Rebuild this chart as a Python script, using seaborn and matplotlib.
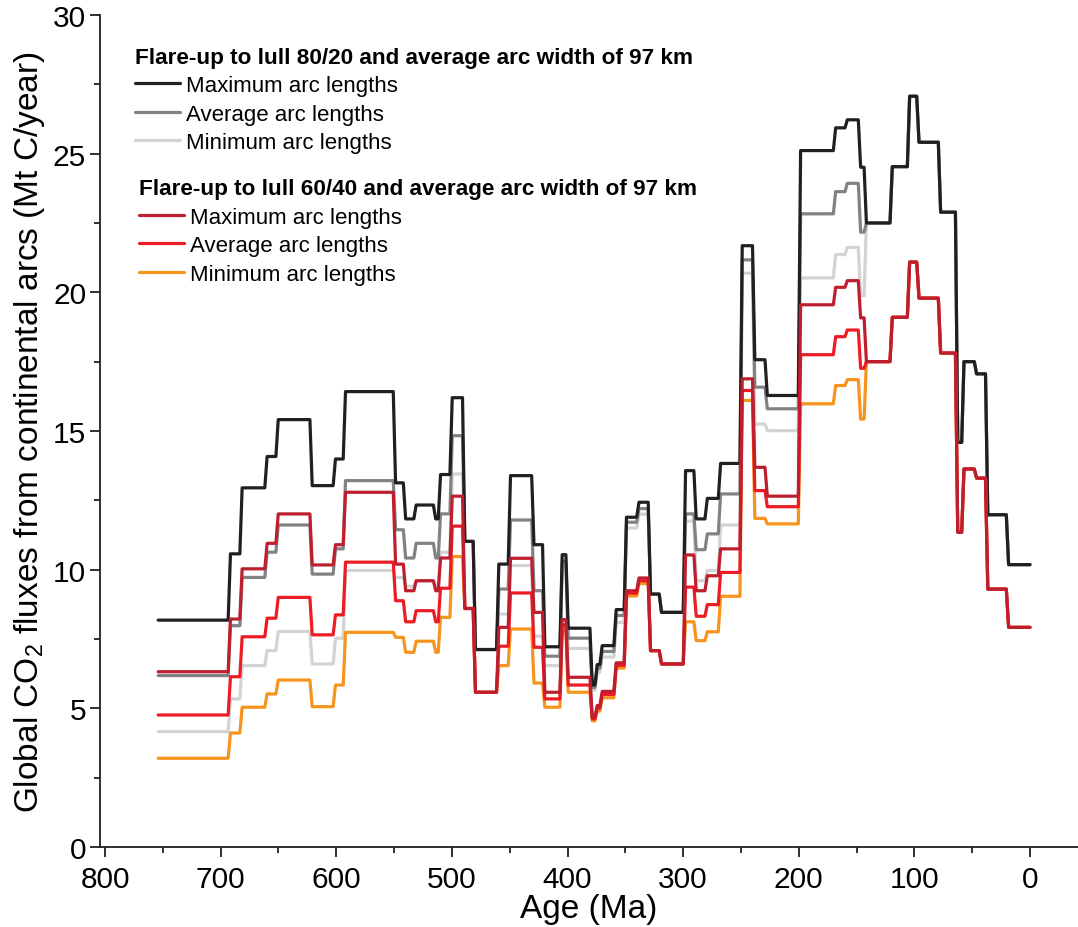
import numpy as np
import pandas as pd
import matplotlib
matplotlib.use("Agg")
import matplotlib.pyplot as plt
import seaborn as sns
from matplotlib.ticker import MultipleLocator


# ================================
# 1. Data
# ================================
# interval boundaries in Ma, oldest first; each series has one value per interval
age_breaks = [754, 693.5, 683.4, 661.8, 652.2, 622.8, 602.7, 594, 550.7, 542,
              532.9, 516, 511.8, 501.7, 490.8, 481.6, 461.4, 451.3, 431, 421.6,
              406.6, 401.4, 380.6, 376.3, 372, 359.9, 351, 340.2, 330.2, 320.7,
              299.9, 290.7, 281.1, 269.6, 250.9, 240, 229.2, 200.4, 170.1, 160,
              148.5, 143.5, 121.1, 106.1, 98, 79.3, 64.5, 59.1, 48.2, 38.5,
              20.5, 0]

# flare-up to lull 80/20
max_8020 = [8.18, 10.57, 12.95, 14.08, 15.41, 13.03, 13.99, 16.42, 13.13, 11.83,
            12.33, 11.83, 13.43, 16.2, 11.02, 7.12, 10.2, 13.39, 10.9, 7.22,
            10.54, 7.89, 5.84, 6.58, 7.26, 8.56, 11.89, 12.43, 9.12, 8.46,
            13.57, 11.83, 12.57, 13.83, 21.68, 17.57, 16.28, 25.11, 25.93, 26.22,
            24.51, 22.5, 24.53, 27.07, 25.41, 22.89, 14.59, 17.5, 17.06, 11.98, 10.18]
avg_8020 = [6.18, 7.98, 9.72, 10.63, 11.61, 9.84, 10.75, 13.21, 11.44, 10.42,
            10.95, 10.42, 12.01, 14.83, 11.02, 7.12, 9.3, 11.79, 9.24, 6.88,
            10.3, 7.53, 5.75, 6.45, 7.05, 8.35, 11.71, 12.2, 9.12, 8.46,
            12.01, 10.72, 11.29, 12.73, 21.17, 16.58, 15.8, 22.83, 23.63, 23.93,
            22.17, 22.5, 24.53, 27.07, 25.41, 22.89, 14.59, 17.5, 17.06, 11.98, 10.18]
min_8020 = [4.16, 5.34, 6.54, 7.08, 7.77, 6.6, 7.53, 9.97, 9.72, 9.4,
            9.6, 9.4, 10.63, 13.45, 11.02, 7.12, 8.4, 10.15, 7.6, 6.54,
            10.1, 7.16, 5.65, 6.3, 6.85, 8.1, 11.5, 12.0, 9.12, 8.46,
            11.75, 9.6, 9.97, 11.61, 20.69, 15.25, 15.01, 20.52, 21.36, 21.62,
            19.88, 22.5, 24.53, 27.07, 25.41, 22.89, 14.59, 17.5, 17.06, 11.98, 10.18]

# flare-up to lull 60/40
max_6040 = [6.32, 8.22, 10.03, 10.95, 12.01, 10.17, 10.9, 12.79, 10.2, 9.24,
            9.6, 9.24, 10.42, 12.65, 8.6, 5.58, 7.92, 10.41, 8.46, 5.58,
            8.2, 6.12, 4.68, 5.1, 5.61, 6.64, 9.24, 9.7, 7.08, 6.6,
            10.53, 9.24, 9.78, 10.75, 16.88, 13.69, 12.65, 19.55, 20.18, 20.42,
            19.08, 17.5, 19.1, 21.09, 19.79, 17.81, 11.35, 13.63, 13.3, 9.3, 7.92]
avg_6040 = [4.76, 6.14, 7.58, 8.25, 9.0, 7.65, 8.37, 10.27, 8.88, 8.12,
            8.52, 8.12, 9.33, 11.57, 8.6, 5.58, 7.24, 9.16, 7.2, 5.34,
            8.0, 5.84, 4.62, 5.0, 5.5, 6.55, 9.15, 9.6, 7.08, 6.6,
            9.37, 8.32, 8.74, 9.9, 16.46, 12.85, 12.27, 17.75, 18.4, 18.64,
            17.26, 17.5, 19.1, 21.09, 19.79, 17.81, 11.35, 13.63, 13.3, 9.3, 7.92]
min_6040 = [3.2, 4.11, 5.04, 5.52, 6.02, 5.06, 5.84, 7.74, 7.56, 7.02,
            7.42, 7.02, 8.28, 10.47, 8.6, 5.58, 6.54, 7.86, 5.91, 5.04,
            7.8, 5.58, 4.55, 4.9, 5.38, 6.45, 9.05, 9.5, 7.08, 6.6,
            8.12, 7.44, 7.76, 9.04, 16.1, 11.85, 11.65, 15.98, 16.64, 16.85,
            15.43, 17.5, 19.1, 21.09, 19.79, 17.81, 11.35, 13.63, 13.3, 9.3, 7.92]

labels = ["Maximum arc lengths", "Average arc lengths", "Minimum arc lengths"]
title_8020 = "Flare-up to lull 80/20 and average arc width of 97 km"
title_6040 = "Flare-up to lull 60/40 and average arc width of 97 km"


# ================================
# 2. Build step curves
# ================================
ramp = 2.0  # the steps in the original are slightly slanted


def step_frame(values, name):
    ages, vals = [], []
    for i, v in enumerate(values):
        start = age_breaks[i] if i == 0 else age_breaks[i] - ramp
        ages += [start, age_breaks[i + 1]]
        vals += [v, v]
    return pd.DataFrame({"age": ages, "flux": vals, "series": name})


# drawing order (last on top) -> (name, values, colour)
series = [
    ("min_8020", min_8020, "#d1d3d4"),
    ("avg_8020", avg_8020, "#808285"),
    ("max_8020", max_8020, "#231f20"),
    ("min_6040", min_6040, "#f7941d"),
    ("avg_6040", avg_6040, "#ed1c24"),
    ("max_6040", max_6040, "#be1e2d"),
]


# ================================
# 3. Plot
# ================================
sns.set_style("ticks")
plt.rcParams["font.family"] = ["Liberation Sans", "DejaVu Sans"]
plt.rcParams["mathtext.default"] = "regular"
plt.rcParams["text.color"] = "black"
plt.rcParams["axes.labelcolor"] = "black"

fig = plt.figure(figsize=(10.78, 9.28), dpi=100)
ax = fig.add_axes([0.0928, 0.0862, 0.9072, 0.8966])

lines = {}
for name, vals, col in series:
    df = step_frame(vals, name)
    sns.lineplot(data=df, x="age", y="flux", color=col, lw=2.3,
                 estimator=None, sort=False, legend=False, ax=ax)
    lines[name] = ax.lines[-1]

ax.set_xlim(804.3, -41.5)
ax.set_ylim(0, 30)
ax.xaxis.set_major_locator(MultipleLocator(100))
ax.xaxis.set_minor_locator(MultipleLocator(50))
ax.yaxis.set_major_locator(MultipleLocator(5))
ax.yaxis.set_minor_locator(MultipleLocator(2.5))

sns.despine(ax=ax)
for s in ["left", "bottom"]:
    ax.spines[s].set_linewidth(1.3)
    ax.spines[s].set_color("#231f20")

ax.tick_params(which="major", length=7, width=1.3, color="#231f20",
               labelsize=21.5, labelcolor="black", direction="out")
ax.tick_params(which="minor", length=4, width=1.3, color="#231f20", direction="out")
ax.tick_params(axis="x", pad=6)
ax.tick_params(axis="y", pad=3)

ax.set_xlabel("Age (Ma)", fontsize=24, labelpad=0)
ax.set_ylabel("Global CO$_2$ fluxes from continental arcs (Mt C/year)",
              fontsize=24, labelpad=4)

# legends
leg_kw = dict(frameon=False, loc="upper left", fontsize=16, handlelength=2.0,
              handletextpad=0.3, labelspacing=0.34, borderpad=0, borderaxespad=0,
              alignment="left", labelcolor="black",
              title_fontproperties={"weight": "bold", "size": 16.2})
leg1 = ax.legend(handles=[lines["max_8020"], lines["avg_8020"], lines["min_8020"]],
                 labels=labels, title=title_8020,
                 bbox_to_anchor=(0.036, 0.962), **leg_kw)
leg1.get_title().set_color("black")
ax.add_artist(leg1)
leg2 = ax.legend(handles=[lines["max_6040"], lines["avg_6040"], lines["min_6040"]],
                 labels=labels, title=title_6040,
                 bbox_to_anchor=(0.040, 0.804), **leg_kw)
leg2.get_title().set_color("black")

fig.savefig("out.png", dpi=100)
plt.close()
